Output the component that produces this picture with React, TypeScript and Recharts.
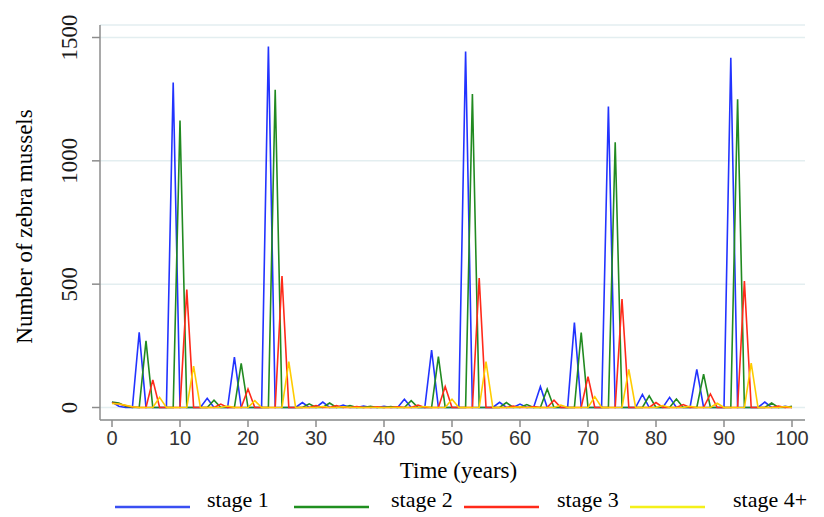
import React from 'react';
import { LineChart, Line, XAxis, YAxis, CartesianGrid, Legend } from 'recharts';

// Simulated zebra mussel abundance by life stage, years 0–100
const YEARS: number[] = Array.from({ length: 101 }, (_, i) => i);

const STAGE1: number[] = [
  22, 5, 0, 0, 305, 0, 0, 0, 0, 1318,
  0, 0, 0, 0, 37, 0, 0, 0, 204, 0,
  0, 0, 0, 1463, 0, 0, 0, 0, 20, 0,
  0, 22, 0, 0, 10, 0, 0, 6, 0, 0,
  5, 0, 0, 33, 0, 0, 0, 233, 0, 0,
  0, 0, 1443, 0, 0, 0, 0, 21, 0, 0,
  14, 0, 0, 85, 0, 0, 0, 0, 344, 0,
  0, 0, 0, 1220, 0, 0, 0, 0, 53, 0,
  0, 0, 41, 0, 0, 0, 155, 0, 0, 0,
  0, 1418, 0, 0, 0, 0, 22, 0, 0, 5,
  0,
];

const STAGE2: number[] = [
  22, 18, 5, 0, 0, 270, 0, 0, 0, 0,
  1163, 0, 0, 0, 0, 30, 0, 0, 0, 179,
  0, 0, 0, 0, 1288, 0, 0, 0, 0, 15,
  0, 0, 18, 0, 0, 8, 0, 0, 5, 0,
  0, 4, 0, 0, 28, 0, 0, 0, 206, 0,
  0, 0, 0, 1271, 0, 0, 0, 0, 20, 0,
  0, 12, 0, 0, 75, 0, 0, 0, 0, 304,
  0, 0, 0, 0, 1075, 0, 0, 0, 0, 47,
  0, 0, 0, 34, 0, 0, 0, 135, 0, 0,
  0, 0, 1250, 0, 0, 0, 0, 18, 0, 0,
  5,
];

const STAGE3: number[] = [
  18, 14, 8, 2, 0, 0, 112, 0, 0, 0,
  0, 478, 0, 0, 0, 0, 14, 0, 0, 0,
  75, 0, 0, 0, 0, 533, 0, 0, 0, 0,
  8, 0, 0, 8, 0, 0, 4, 0, 0, 3,
  0, 0, 3, 0, 0, 10, 0, 0, 0, 85,
  0, 0, 0, 0, 525, 0, 0, 0, 0, 6,
  0, 0, 4, 0, 0, 30, 0, 0, 0, 0,
  125, 0, 0, 0, 0, 440, 0, 0, 0, 0,
  20, 0, 0, 0, 12, 0, 0, 0, 55, 0,
  0, 0, 0, 513, 0, 0, 0, 0, 6, 0,
  0,
];

const STAGE4: number[] = [
  16, 14, 9, 3, 0, 0, 0, 41, 0, 0,
  0, 0, 168, 0, 0, 0, 0, 6, 0, 0,
  0, 28, 0, 0, 0, 0, 186, 0, 0, 0,
  0, 4, 0, 0, 3, 0, 0, 0, 0, 0,
  0, 0, 0, 0, 0, 0, 4, 0, 0, 0,
  33, 0, 0, 0, 0, 186, 0, 0, 0, 0,
  3, 0, 0, 0, 0, 0, 10, 0, 0, 0,
  0, 44, 0, 0, 0, 0, 155, 0, 0, 0,
  0, 8, 0, 0, 0, 5, 0, 0, 0, 17,
  0, 0, 0, 0, 180, 0, 0, 0, 0, 4,
  0,
];

const X_TICKS: number[] = [0, 10, 20, 30, 40, 50, 60, 70, 80, 90, 100];
const Y_TICKS: number[] = [0, 500, 1000, 1500];

const SERIES = [
  { key: 's1', name: 'stage 1', values: STAGE1, color: '#2233ff', legendColor: '#3a4ff2' },
  { key: 's2', name: 'stage 2', values: STAGE2, color: '#218a21', legendColor: '#1f8f1f' },
  { key: 's3', name: 'stage 3', values: STAGE3, color: '#ff2a1a', legendColor: '#ff2a1a' },
  { key: 's4', name: 'stage 4+', values: STAGE4, color: '#ffcc00', legendColor: '#f4f01a' },
];

const data = YEARS.map((t, i) => {
  const row: Record<string, number> = { t };
  SERIES.forEach((s) => {
    row[s.key] = s.values[i];
  });
  return row;
});

const SERIF = "'Liberation Serif', 'Times New Roman', serif";
const SANS = "'Liberation Sans', Arial, sans-serif";
const AXIS_GRAY = '#8c8c8c';

// legend key/label placement along the bottom strip
const LEGEND_LAYOUT = [
  { lineX: 115, textX: 207 },
  { lineX: 294, textX: 391 },
  { lineX: 464, textX: 557 },
  { lineX: 630, textX: 733 },
];

const YTick = (props: any) => {
  const { x, y, payload } = props;
  return (
    <text
      x={x}
      y={y}
      transform={`rotate(-90, ${x}, ${y})`}
      textAnchor="middle"
      fontFamily={SERIF}
      fontSize={23}
      fill="#1a1a1a"
    >
      {payload.value}
    </text>
  );
};

const YTitle = (props: any) => {
  const { viewBox } = props;
  const cx = 32;
  const cy = viewBox.y + viewBox.height / 2 + 4;
  return (
    <text
      x={cx}
      y={cy}
      transform={`rotate(-90, ${cx}, ${cy})`}
      textAnchor="middle"
      fontFamily={SERIF}
      fontSize={23}
      fill="#000"
    >
      Number of zebra mussels
    </text>
  );
};

const LegendStrip = () => (
  <svg width={824} height={37} style={{ display: 'block' }}>
    {SERIES.map((s, i) => (
      <g key={s.key}>
        <line
          x1={LEGEND_LAYOUT[i].lineX}
          x2={LEGEND_LAYOUT[i].lineX + 75}
          y1={27}
          y2={27}
          stroke={s.legendColor}
          strokeWidth={2.5}
        />
        <text
          x={LEGEND_LAYOUT[i].textX}
          y={26.5}
          fontFamily={SERIF}
          fontSize={22}
          fill="#000"
        >
          {s.name}
        </text>
      </g>
    ))}
  </svg>
);

export default function App() {
  return (
    <div style={{ position: 'absolute', left: 0, top: 0, width: 824, height: 517, background: '#fff' }}>
      <LineChart
        width={824}
        height={517}
        data={data}
        margin={{ top: 25, right: 19, bottom: 0, left: 0 }}
      >
        <CartesianGrid horizontal vertical={false} stroke="#e3eef0" strokeWidth={1.5} />
        <XAxis
          dataKey="t"
          type="number"
          domain={[0, 100]}
          ticks={X_TICKS}
          interval={0}
          padding={{ left: 12, right: 13 }}
          height={60}
          tickSize={7}
          tickMargin={4}
          axisLine={{ stroke: AXIS_GRAY, strokeWidth: 1.5 }}
          tickLine={{ stroke: AXIS_GRAY, strokeWidth: 1.5 }}
          tick={{ fontFamily: SANS, fontSize: 20, fill: '#333' }}
          label={{
            value: 'Time (years)',
            position: 'insideBottom',
            offset: 2,
            dx: 6,
            fontFamily: SERIF,
            fontSize: 23,
            fill: '#000',
          }}
        />
        <YAxis
          type="number"
          domain={[0, 1500]}
          ticks={Y_TICKS}
          interval={0}
          width={100}
          padding={{ top: 12.5, bottom: 12.5 }}
          tickSize={8}
          tickMargin={15}
          axisLine={{ stroke: AXIS_GRAY, strokeWidth: 1.5 }}
          tickLine={{ stroke: AXIS_GRAY, strokeWidth: 1.5 }}
          tick={<YTick />}
          label={<YTitle />}
        />
        <Legend
          verticalAlign="bottom"
          align="left"
          height={37}
          wrapperStyle={{ left: 0, bottom: 0, width: 824, height: 37 }}
          content={<LegendStrip />}
        />
        {SERIES.map((s) => (
          <Line
            key={s.key}
            dataKey={s.key}
            name={s.name}
            type="linear"
            stroke={s.color}
            strokeWidth={1.6}
            dot={false}
            activeDot={false}
            isAnimationActive={false}
          />
        ))}
      </LineChart>
    </div>
  );
}
